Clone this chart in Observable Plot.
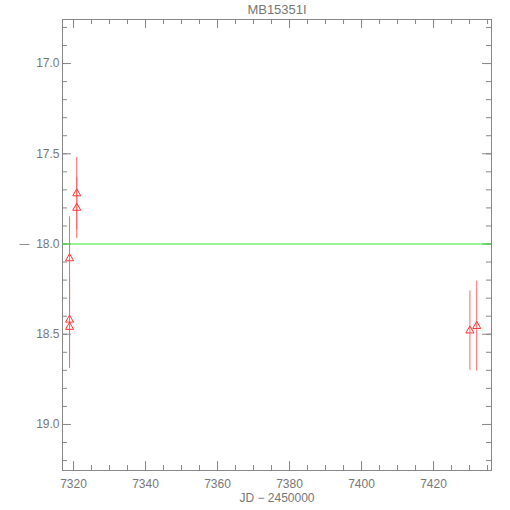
<!DOCTYPE html>
<html>
<head>
<meta charset="utf-8">
<script src="https://cdn.jsdelivr.net/npm/d3@7"></script>
<script src="https://cdn.jsdelivr.net/npm/@observablehq/plot@0.6"></script>
<style>
  html, body { margin: 0; padding: 0; background: #fff; }
  #chart { width: 510px; height: 510px; }
</style>
</head>
<body>
<div id="chart"></div>
<script>
// Data
const title = "MB15351I";
const xLabel = "JD \u2212 2450000";
const jd  = [7318.9, 7318.9, 7318.9, 7320.9, 7320.9, 7430.1, 7432.0];
const mag = [18.08, 18.42, 18.46, 17.72, 17.80, 18.48, 18.455];
const err = [0.23, 0.23, 0.23, 0.20, 0.17, 0.22, 0.25];
const refMag = [18.0];
const xMajorTicks = [7320, 7340, 7360, 7380, 7400, 7420];
const yMajorTicks = [17.0, 17.5, 18.0, 18.5, 19.0];
const xDomain = [7316.94, 7436.1];
const yDomain = [16.756, 19.255];

const W = 510, H = 510, mL = 62, mR = 19, mT = 19, mB = 40;
const frameW = W - mL - mR, frameH = H - mT - mB;

const data = jd.map((x, i) => ({x, y: mag[i], lo: mag[i] - err[i], hi: mag[i] + err[i]}));
const xMinor = d3.range(7315, 7440, 5).filter(v => v >= xDomain[0] && v <= xDomain[1]);
const yMinor = d3.range(16.8, 19.25, 0.1).map(v => +v.toFixed(1)).filter(v => v >= yDomain[0] && v <= yDomain[1]);

const gray = "#888";
const textGray = "#777";
const minorLen = 5, majorLen = 9;

const plot = Plot.plot({
  width: W,
  height: H,
  marginLeft: mL,
  marginRight: mR,
  marginTop: mT,
  marginBottom: mB,
  style: {fontFamily: "Liberation Sans, DejaVu Sans, sans-serif", fontSize: "12px", color: textGray, background: "#fff"},
  x: {domain: xDomain, axis: null},
  y: {domain: yDomain, reverse: true, axis: null},
  marks: [
    // inward ticks on all four sides
    Plot.tickX(xMinor, {x: d => d, insetTop: frameH - minorLen, stroke: gray}),
    Plot.tickX(xMinor, {x: d => d, insetBottom: frameH - minorLen, stroke: gray}),
    Plot.tickX(xMajorTicks, {x: d => d, insetTop: frameH - majorLen, stroke: gray}),
    Plot.tickX(xMajorTicks, {x: d => d, insetBottom: frameH - majorLen, stroke: gray}),
    Plot.tickY(yMinor, {y: d => d, insetRight: frameW - minorLen, stroke: gray}),
    Plot.tickY(yMinor, {y: d => d, insetLeft: frameW - minorLen, stroke: gray}),
    Plot.tickY(yMajorTicks, {y: d => d, insetRight: frameW - majorLen, stroke: gray}),
    Plot.tickY(yMajorTicks, {y: d => d, insetLeft: frameW - majorLen, stroke: gray}),
    // tick labels
    Plot.axisX(xMajorTicks, {anchor: "bottom", tickSize: 0, tickPadding: 9, tickFormat: d => String(d), label: null, fill: textGray, fontSize: 12}),
    Plot.axisY(yMajorTicks, {anchor: "left", tickSize: 0, tickPadding: 3, tickFormat: d => d.toFixed(1), label: null, fill: textGray, fontSize: 12}),
    Plot.frame({stroke: gray}),
    // reference line
    Plot.ruleY(refMag, {stroke: "#33ee33", strokeWidth: 1}),
    Plot.text(refMag, {y: d => d, frameAnchor: "left", dx: -43, text: () => "\u2014", fill: textGray, fontSize: 10}),
    // error bars
    Plot.ruleX(data, {x: "x", y1: "lo", y2: "hi", stroke: "#ff6666", strokeWidth: 1}),
    // points
    Plot.dot(data, {x: "x", y: "y", symbol: "triangle", r: 3, stroke: "#ff3333", fill: "none", strokeWidth: 1}),
    // title and x label
    Plot.text([title], {frameAnchor: "top", dy: -10, lineAnchor: "middle", text: d => d, fill: textGray, fontSize: 13}),
    Plot.text([xLabel], {frameAnchor: "bottom", dy: 28, lineAnchor: "middle", text: d => d, fill: textGray, fontSize: 12})
  ]
});
document.getElementById("chart").appendChild(plot);
</script>
</body>
</html>
